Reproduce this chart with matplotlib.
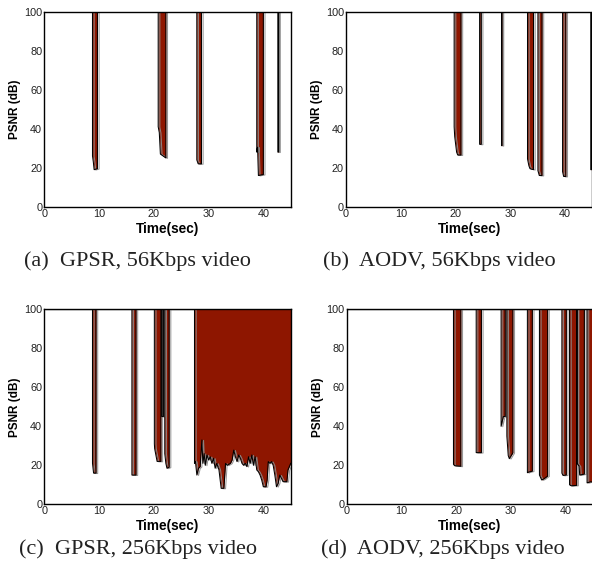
import matplotlib
matplotlib.use("Agg")
import matplotlib.pyplot as plt
import matplotlib.patheffects as pe

# ---------------- data (time in sec, PSNR in dB) ----------------
gpsr56_t = [0, 8.8, 8.8, 8.95, 9.1, 9.7, 9.7,
            20.8, 20.8, 21.0, 21.2, 22.2, 22.2,
            27.85, 27.85, 28.1, 28.7, 28.7,
            38.8, 38.8, 38.95, 39.1, 40.0, 40.0,
            42.65, 42.65, 42.8, 42.8, 45]
gpsr56_v = [100, 100, 26, 23, 19, 19.5, 100,
            100, 41, 38, 27, 25, 100,
            100, 24, 22, 22, 100,
            100, 28, 30.5, 16, 16.5, 100,
            100, 28, 28, 100, 100]

aodv56_t = [0, 19.75, 19.75, 19.85, 20.2, 20.4, 21.0, 21.0,
            24.4, 24.4, 24.7, 24.7,
            28.4, 28.4, 28.5, 28.5,
            33.15, 33.15, 33.4, 33.6, 34.25, 34.25,
            35.05, 35.05, 35.3, 35.8, 35.8,
            39.55, 39.55, 39.75, 40.15, 40.15,
            44.7, 44.7, 44.85, 44.85, 45]
aodv56_v = [100, 100, 41, 36, 28, 26.5, 26.5, 100,
            100, 32, 32, 100,
            100, 31.3, 31.3, 100,
            100, 24.5, 21, 19.5, 19, 100,
            100, 18.5, 16, 16, 100,
            100, 18, 15.5, 15.5, 100,
            100, 19, 19, 100, 100]

gpsr256_t = [0, 8.8, 8.8, 9.0, 9.45, 9.45,
             16.0, 16.0, 16.75, 16.75,
             20.1, 20.1, 20.15, 20.6, 21.3, 21.3,
             21.5, 21.5, 21.75, 21.75,
             22.0, 22.0, 22.2, 22.4, 22.8, 22.8,
             27.43, 27.43, 27.6, 27.86, 28.17, 28.47, 28.78, 28.96, 29.2, 29.4,
             29.7, 30.0, 30.3, 30.6, 30.9, 31.2, 31.5, 31.9, 32.3, 32.8,
             33.1, 33.4, 34.0, 34.3, 34.6, 34.9, 35.2, 35.5, 35.8, 36.1,
             36.4, 36.7, 37.0, 37.3, 37.6, 37.9, 38.2, 38.5, 38.8, 39.1,
             39.4, 39.7, 40.0, 40.5, 40.7, 40.9, 41.2, 41.5, 41.8, 42.1,
             42.4, 42.7, 43.0, 43.3, 43.6, 43.9, 44.3, 44.5, 45]
gpsr256_v = [100, 100, 21, 16, 16, 100,
             100, 15, 15, 100,
             100, 31, 28.6, 22, 22, 100,
             100, 45, 45, 100,
             100, 26, 21, 18.5, 19, 100,
             100, 21, 22, 15, 18.5, 19.3, 33, 21, 26, 20,
             25.3, 22.7, 24.4, 21, 23.6, 18.5, 21, 17.6, 8.2, 8.2,
             21, 20, 21, 22.7, 27.8, 24.4, 21.9, 25.3, 23.6, 21,
             20, 21, 19.3, 24.4, 21, 25.3, 20, 24.4, 17.6, 16.7,
             15, 12.5, 9, 9, 12.5, 21.9, 21, 21.9, 20, 15,
             9, 10.7, 15, 13.3, 11.6, 11.6, 11.6, 17.6, 21]

aodv256_t = [0, 19.5, 19.5, 19.7, 20.85, 20.85,
             23.65, 23.65, 24.6, 24.6,
             28.2, 28.2, 28.6, 28.95, 28.95,
             29.25, 29.25, 29.5, 29.7, 30.35, 30.35,
             33.0, 33.0, 33.2, 33.9, 33.9,
             35.2, 35.2, 35.6, 36.0, 36.7, 36.7,
             39.3, 39.3, 39.5, 40.1, 40.1,
             40.7, 40.7, 41.0, 42.0, 42.0,
             42.1, 42.1, 42.45, 42.55, 43.4, 43.4,
             43.9, 43.9, 44.5, 45]
aodv256_v = [100, 100, 20.5, 19.8, 19.5, 100,
             100, 26.5, 26.5, 100,
             100, 40, 45, 45, 100,
             100, 35, 25, 23.4, 26.4, 100,
             100, 16.2, 16.5, 17, 100,
             100, 15, 12.5, 13, 14.5, 100,
             100, 16, 14.8, 15, 100,
             100, 10, 9.5, 9.7, 100,
             100, 21, 19.5, 15, 15.5, 100,
             100, 11, 11.5, 11.5]

captions = ["(a)  GPSR, 56Kbps video", "(b)  AODV, 56Kbps video",
            "(c)  GPSR, 256Kbps video", "(d)  AODV, 256Kbps video"]
x_ticks = [0, 10, 20, 30, 40]
y_ticks = [0, 20, 40, 60, 80, 100]

series = [(gpsr56_t, gpsr56_v), (aodv56_t, aodv56_v),
          (gpsr256_t, gpsr256_v), (aodv256_t, aodv256_v)]

# ---------------- layout ----------------
W, H = 592, 574
fig = plt.figure(figsize=(W / 100, H / 100), dpi=100)

boxes = [(44.3, 11.7), (346.0, 11.7), (44.3, 309.3), (346.7, 309.3)]
aw, ah = 246.4, 195.0
cap_pos = [(137, 261), (439, 261), (138, 549), (443, 549)]

red = "#8e1600"
sans = ["Liberation Sans", "DejaVu Sans"]
serif = ["Liberation Serif", "DejaVu Serif"]

for i, ((px, py), (t, v)) in enumerate(zip(boxes, series)):
    ax = fig.add_axes([px / W, 1 - (py + ah) / H, aw / W, ah / H])
    ax.fill_between(t, v, 100, color=red, lw=0, zorder=2)
    ax.plot(t, v, color="black", lw=0.75, zorder=3,
            path_effects=[pe.SimpleLineShadow(offset=(1.2, -0.3), shadow_color="0.55", alpha=0.9),
                          pe.Normal()])
    ax.set_xlim(0, 45)
    ax.set_ylim(0, 100)
    ax.set_xticks(x_ticks)
    ax.set_yticks(y_ticks)
    ax.tick_params(direction="in", length=0, pad=1.5, labelsize=7.8, colors="#222222")
    for lab in ax.get_xticklabels() + ax.get_yticklabels():
        lab.set_family(sans)
    for s in ax.spines.values():
        s.set_linewidth(1.0)
        s.set_zorder(4)
    ax.set_xlabel("Time(sec)", fontsize=9.8, fontweight="bold", family=sans, labelpad=2.0)
    ax.set_ylabel("PSNR (dB)", fontsize=8.5, fontweight="bold", family=sans, labelpad=2)
    cx, cy = cap_pos[i]
    fig.text(cx / W, 1 - cy / H, captions[i], ha="center", va="center",
             fontsize=16, family=serif, color="#222222")

fig.savefig("out.png", dpi=100)
